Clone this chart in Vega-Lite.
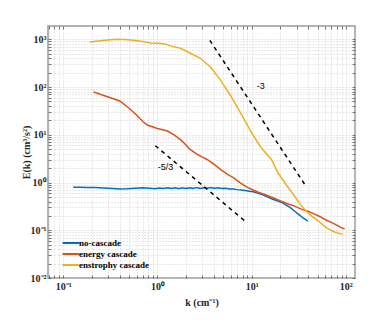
{
  "$schema": "https://vega.github.io/schema/vega-lite/v6.json",
  "width": 307,
  "height": 252,
  "autosize": {"type": "none"},
  "padding": {"left": 48, "top": 26, "right": 25, "bottom": 43},
  "background": "white",
  "config": {
    "view": {"stroke": "#9a9a9a", "strokeWidth": 1.5},
    "font": "Liberation Serif"
  },
  "datasets": {
    "curves": [
      {"series": "no-cascade", "k": 0.128, "E": 0.8},
      {"series": "no-cascade", "k": 0.15, "E": 0.8},
      {"series": "no-cascade", "k": 0.18, "E": 0.79},
      {"series": "no-cascade", "k": 0.22, "E": 0.79},
      {"series": "no-cascade", "k": 0.27, "E": 0.77},
      {"series": "no-cascade", "k": 0.33, "E": 0.75},
      {"series": "no-cascade", "k": 0.4, "E": 0.73},
      {"series": "no-cascade", "k": 0.48, "E": 0.74},
      {"series": "no-cascade", "k": 0.58, "E": 0.76},
      {"series": "no-cascade", "k": 0.7, "E": 0.78},
      {"series": "no-cascade", "k": 0.82, "E": 0.76},
      {"series": "no-cascade", "k": 0.95, "E": 0.74},
      {"series": "no-cascade", "k": 1.05, "E": 0.77},
      {"series": "no-cascade", "k": 1.15, "E": 0.75},
      {"series": "no-cascade", "k": 1.3, "E": 0.78},
      {"series": "no-cascade", "k": 1.4, "E": 0.75},
      {"series": "no-cascade", "k": 1.55, "E": 0.78},
      {"series": "no-cascade", "k": 1.7, "E": 0.74},
      {"series": "no-cascade", "k": 1.85, "E": 0.78},
      {"series": "no-cascade", "k": 2.0, "E": 0.75},
      {"series": "no-cascade", "k": 2.2, "E": 0.78},
      {"series": "no-cascade", "k": 2.4, "E": 0.75},
      {"series": "no-cascade", "k": 2.6, "E": 0.79},
      {"series": "no-cascade", "k": 2.85, "E": 0.75},
      {"series": "no-cascade", "k": 3.1, "E": 0.78},
      {"series": "no-cascade", "k": 3.4, "E": 0.76},
      {"series": "no-cascade", "k": 3.7, "E": 0.79},
      {"series": "no-cascade", "k": 4.0, "E": 0.76},
      {"series": "no-cascade", "k": 4.4, "E": 0.78},
      {"series": "no-cascade", "k": 4.8, "E": 0.75},
      {"series": "no-cascade", "k": 5.3, "E": 0.76},
      {"series": "no-cascade", "k": 5.8, "E": 0.73},
      {"series": "no-cascade", "k": 6.4, "E": 0.73},
      {"series": "no-cascade", "k": 7.0, "E": 0.71},
      {"series": "no-cascade", "k": 7.7, "E": 0.7},
      {"series": "no-cascade", "k": 8.5, "E": 0.68},
      {"series": "no-cascade", "k": 9.4, "E": 0.66},
      {"series": "no-cascade", "k": 10.4, "E": 0.64},
      {"series": "no-cascade", "k": 11.5, "E": 0.6},
      {"series": "no-cascade", "k": 12.7, "E": 0.57},
      {"series": "no-cascade", "k": 14, "E": 0.52},
      {"series": "no-cascade", "k": 15.5, "E": 0.48},
      {"series": "no-cascade", "k": 17, "E": 0.44},
      {"series": "no-cascade", "k": 19, "E": 0.41},
      {"series": "no-cascade", "k": 21, "E": 0.38},
      {"series": "no-cascade", "k": 23, "E": 0.34},
      {"series": "no-cascade", "k": 25.5, "E": 0.3},
      {"series": "no-cascade", "k": 28.7, "E": 0.25},
      {"series": "no-cascade", "k": 31, "E": 0.22},
      {"series": "no-cascade", "k": 34, "E": 0.19},
      {"series": "no-cascade", "k": 37, "E": 0.17},
      {"series": "no-cascade", "k": 39.5, "E": 0.155},
      {"series": "energy cascade", "k": 0.21, "E": 79},
      {"series": "energy cascade", "k": 0.3, "E": 62},
      {"series": "energy cascade", "k": 0.4, "E": 51},
      {"series": "energy cascade", "k": 0.5, "E": 36},
      {"series": "energy cascade", "k": 0.6, "E": 26},
      {"series": "energy cascade", "k": 0.7, "E": 19},
      {"series": "energy cascade", "k": 0.78, "E": 16},
      {"series": "energy cascade", "k": 0.9, "E": 14.5},
      {"series": "energy cascade", "k": 1.0, "E": 13.5},
      {"series": "energy cascade", "k": 1.28, "E": 12},
      {"series": "energy cascade", "k": 1.5, "E": 10},
      {"series": "energy cascade", "k": 1.76, "E": 7.9},
      {"series": "energy cascade", "k": 2.0, "E": 6.2},
      {"series": "energy cascade", "k": 2.2, "E": 5.0},
      {"series": "energy cascade", "k": 2.6, "E": 4.0},
      {"series": "energy cascade", "k": 3.0, "E": 3.4},
      {"series": "energy cascade", "k": 3.4, "E": 3.0},
      {"series": "energy cascade", "k": 4.0, "E": 2.4},
      {"series": "energy cascade", "k": 4.7, "E": 1.87},
      {"series": "energy cascade", "k": 5.5, "E": 1.5},
      {"series": "energy cascade", "k": 6.4, "E": 1.27},
      {"series": "energy cascade", "k": 7.5, "E": 1.0},
      {"series": "energy cascade", "k": 9.0, "E": 0.79},
      {"series": "energy cascade", "k": 10.5, "E": 0.69},
      {"series": "energy cascade", "k": 11.9, "E": 0.62},
      {"series": "energy cascade", "k": 13.8, "E": 0.56},
      {"series": "energy cascade", "k": 16.3, "E": 0.49},
      {"series": "energy cascade", "k": 20.9, "E": 0.4},
      {"series": "energy cascade", "k": 24.8, "E": 0.35},
      {"series": "energy cascade", "k": 28.7, "E": 0.32},
      {"series": "energy cascade", "k": 33, "E": 0.28},
      {"series": "energy cascade", "k": 39.5, "E": 0.25},
      {"series": "energy cascade", "k": 46, "E": 0.22},
      {"series": "energy cascade", "k": 54, "E": 0.19},
      {"series": "energy cascade", "k": 63, "E": 0.16},
      {"series": "energy cascade", "k": 71, "E": 0.145},
      {"series": "energy cascade", "k": 77, "E": 0.133},
      {"series": "energy cascade", "k": 88, "E": 0.115},
      {"series": "energy cascade", "k": 97, "E": 0.106},
      {"series": "enstrophy cascade", "k": 0.19, "E": 880},
      {"series": "enstrophy cascade", "k": 0.25, "E": 930},
      {"series": "enstrophy cascade", "k": 0.3, "E": 970},
      {"series": "enstrophy cascade", "k": 0.375, "E": 1000},
      {"series": "enstrophy cascade", "k": 0.45, "E": 990},
      {"series": "enstrophy cascade", "k": 0.55, "E": 960},
      {"series": "enstrophy cascade", "k": 0.7, "E": 900},
      {"series": "enstrophy cascade", "k": 0.85, "E": 840},
      {"series": "enstrophy cascade", "k": 1.0, "E": 830},
      {"series": "enstrophy cascade", "k": 1.2, "E": 800},
      {"series": "enstrophy cascade", "k": 1.4, "E": 720},
      {"series": "enstrophy cascade", "k": 1.76, "E": 650},
      {"series": "enstrophy cascade", "k": 2.24, "E": 510},
      {"series": "enstrophy cascade", "k": 2.86, "E": 400},
      {"series": "enstrophy cascade", "k": 3.67, "E": 260},
      {"series": "enstrophy cascade", "k": 4.68, "E": 140},
      {"series": "enstrophy cascade", "k": 6.0, "E": 65},
      {"series": "enstrophy cascade", "k": 7.6, "E": 29},
      {"series": "enstrophy cascade", "k": 10, "E": 11},
      {"series": "enstrophy cascade", "k": 12.5, "E": 5.5},
      {"series": "enstrophy cascade", "k": 16.3, "E": 3.0},
      {"series": "enstrophy cascade", "k": 19, "E": 1.6},
      {"series": "enstrophy cascade", "k": 22.4, "E": 1.0},
      {"series": "enstrophy cascade", "k": 25.5, "E": 0.7},
      {"series": "enstrophy cascade", "k": 28.7, "E": 0.51},
      {"series": "enstrophy cascade", "k": 32, "E": 0.37},
      {"series": "enstrophy cascade", "k": 36.7, "E": 0.27},
      {"series": "enstrophy cascade", "k": 43, "E": 0.2},
      {"series": "enstrophy cascade", "k": 51.6, "E": 0.154},
      {"series": "enstrophy cascade", "k": 58, "E": 0.125},
      {"series": "enstrophy cascade", "k": 66, "E": 0.106},
      {"series": "enstrophy cascade", "k": 77, "E": 0.091},
      {"series": "enstrophy cascade", "k": 86, "E": 0.085},
      {"series": "enstrophy cascade", "k": 93, "E": 0.083}
    ],
    "slopes": [
      {"line": "a", "k": 3.6, "E": 950},
      {"line": "a", "k": 36.5, "E": 0.92},
      {"line": "b", "k": 0.95, "E": 5.9},
      {"line": "b", "k": 8.8, "E": 0.147}
    ],
    "labels": [
      {"k": 12.5, "E": 105, "t": "-3"},
      {"k": 1.22, "E": 2.15, "t": "-5/3"}
    ]
  },
  "layer": [
    {
      "data": {"name": "curves"},
      "mark": {"type": "line", "strokeWidth": 1.5, "clip": true},
      "encoding": {
        "x": {
          "field": "k", "type": "quantitative",
          "scale": {"type": "log", "domain": [0.069, 125], "nice": false},
          "axis": {
            "orient": "bottom",
            "values": [0.07,0.08,0.09,0.1,0.2,0.3,0.4,0.5,0.6,0.7,0.8,0.9,1,2,3,4,5,6,7,8,9,10,20,30,40,50,60,70,80,90,100],
            "labelExpr": "abs(log(datum.value)/LN10 - round(log(datum.value)/LN10)) < 0.001 ? '10' + (round(log(datum.value)/LN10) < 0 ? '⁻' : '') + ['⁰','¹','²','³'][abs(round(log(datum.value)/LN10))] : ''",
            "labelOverlap": false,
            "labelFont": "Liberation Serif", "labelFontSize": 10, "labelFontWeight": "bold", "labelColor": "#262626",
            "labelPadding": 6,
            "domain": false,
            "tickSize": -3, "tickColor": "#555", "tickWidth": 0.8,
            "grid": true, "gridDash": [1, 2], "gridColor": "#c8c8c8", "gridWidth": 0.8,
            "title": "k (cm⁻¹)", "titleFont": "Liberation Serif", "titleFontSize": 10, "titleFontWeight": "bold", "titleColor": "#262626", "titlePadding": 6
          }
        },
        "y": {
          "field": "E", "type": "quantitative",
          "scale": {"type": "log", "domain": [0.01, 1900], "nice": false},
          "axis": {
            "orient": "left",
            "values": [0.01,0.02,0.03,0.04,0.05,0.06,0.07,0.08,0.09,0.1,0.2,0.3,0.4,0.5,0.6,0.7,0.8,0.9,1,2,3,4,5,6,7,8,9,10,20,30,40,50,60,70,80,90,100,200,300,400,500,600,700,800,900,1000],
            "labelExpr": "abs(log(datum.value)/LN10 - round(log(datum.value)/LN10)) < 0.001 ? '10' + (round(log(datum.value)/LN10) < 0 ? '⁻' : '') + ['⁰','¹','²','³'][abs(round(log(datum.value)/LN10))] : ''",
            "labelOverlap": false,
            "labelFont": "Liberation Serif", "labelFontSize": 10, "labelFontWeight": "bold", "labelColor": "#262626",
            "labelPadding": 5,
            "domain": false,
            "tickSize": -3, "tickColor": "#555", "tickWidth": 0.8,
            "grid": true, "gridDash": [1, 2], "gridColor": "#c8c8c8", "gridWidth": 0.8,
            "title": "E(k) (cm³/s²)", "titleFont": "Liberation Serif", "titleFontSize": 10, "titleFontWeight": "bold", "titleColor": "#262626", "titlePadding": -1
          }
        },
        "color": {
          "field": "series", "type": "nominal",
          "scale": {"domain": ["no-cascade", "energy cascade", "enstrophy cascade"], "range": ["#0072BD", "#D95319", "#EDB120"]},
          "legend": {
            "orient": "none", "legendX": 17, "legendY": 211, "title": null,
            "symbolType": "M-1.7,0H1.7", "symbolSize": 100, "symbolStrokeWidth": 2,
            "labelFont": "Liberation Serif", "labelFontSize": 9, "labelFontWeight": "bold", "labelColor": "#000",
            "rowPadding": -1, "labelOffset": 2
          }
        }
      }
    },
    {
      "data": {"name": "slopes"},
      "mark": {"type": "line", "color": "black", "strokeWidth": 1.5, "strokeDash": [4, 4]},
      "encoding": {
        "x": {"field": "k", "type": "quantitative", "axis": null},
        "y": {"field": "E", "type": "quantitative", "axis": null},
        "detail": {"field": "line"}
      }
    },
    {
      "data": {"name": "labels"},
      "mark": {"type": "text", "font": "Liberation Sans", "fontSize": 9, "color": "black"},
      "encoding": {
        "x": {"field": "k", "type": "quantitative", "axis": null},
        "y": {"field": "E", "type": "quantitative", "axis": null},
        "text": {"field": "t"}
      }
    },
    {
      "data": {"name": "slopes"},
      "mark": {"type": "point", "opacity": 0},
      "encoding": {
        "x": {
          "field": "k", "type": "quantitative",
          "axis": {
            "orient": "top",
            "values": [0.07,0.08,0.09,0.1,0.2,0.3,0.4,0.5,0.6,0.7,0.8,0.9,1,2,3,4,5,6,7,8,9,10,20,30,40,50,60,70,80,90,100],
            "labels": false, "domain": false, "grid": false, "title": null,
            "tickSize": -3, "tickColor": "#555", "tickWidth": 0.8
          }
        },
        "y": {
          "field": "E", "type": "quantitative",
          "axis": {
            "orient": "right",
            "values": [0.01,0.02,0.03,0.04,0.05,0.06,0.07,0.08,0.09,0.1,0.2,0.3,0.4,0.5,0.6,0.7,0.8,0.9,1,2,3,4,5,6,7,8,9,10,20,30,40,50,60,70,80,90,100,200,300,400,500,600,700,800,900,1000],
            "labels": false, "domain": false, "grid": false, "title": null,
            "tickSize": -3, "tickColor": "#555", "tickWidth": 0.8
          }
        }
      }
    }
  ],
  "resolve": {"axis": {"x": "independent", "y": "independent"}}
}
